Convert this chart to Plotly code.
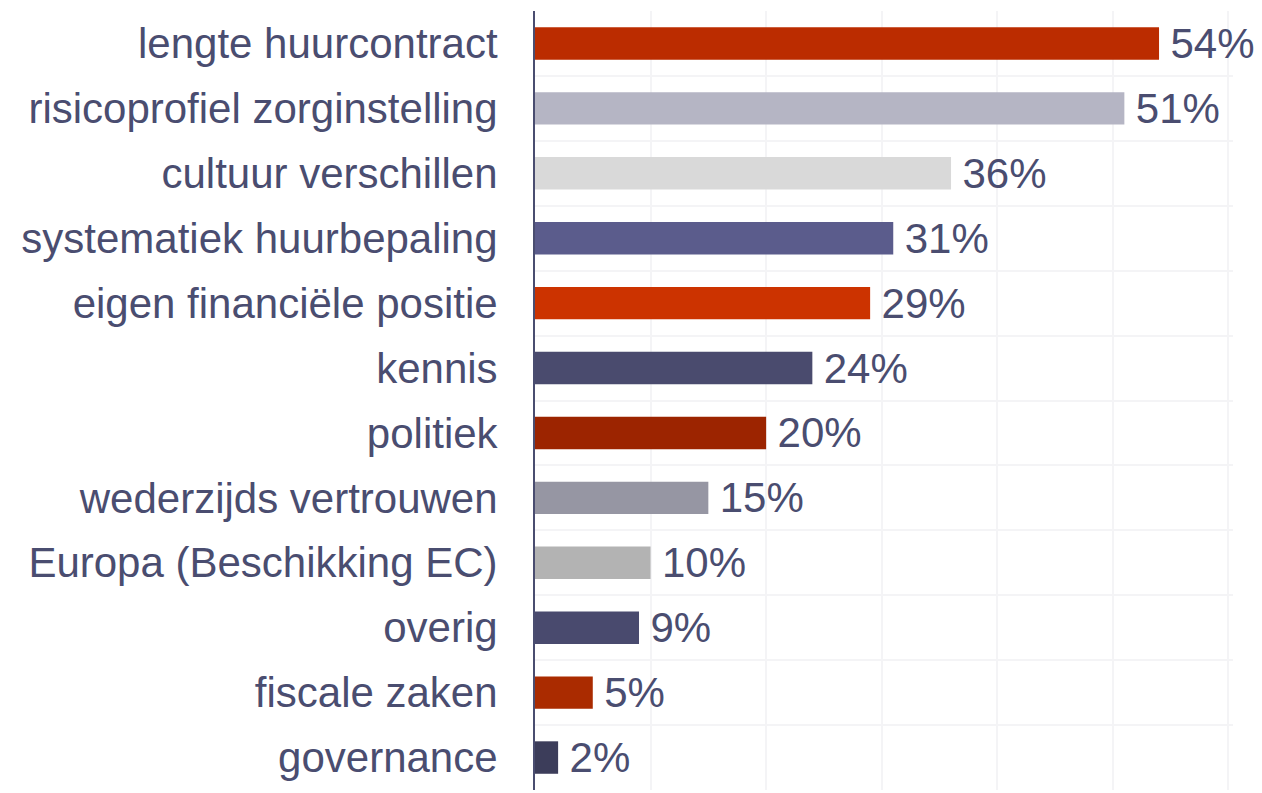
import plotly.graph_objects as go

# Data
categories = ["lengte huurcontract", "risicoprofiel zorginstelling", "cultuur verschillen",
              "systematiek huurbepaling", "eigen financiële positie", "kennis", "politiek",
              "wederzijds vertrouwen", "Europa (Beschikking EC)", "overig", "fiscale zaken",
              "governance"]
values = [54, 51, 36, 31, 29, 24, 20, 15, 10, 9, 5, 2]
bar_colors = ["#BB2C00", "#B5B5C4", "#D9D9D9", "#5B5C8C", "#CC3300", "#4A4B6E",
              "#9C2400", "#9696A3", "#B3B3B3", "#494A6E", "#AA2B00", "#3C3D5A"]

text_color = "#4A4D70"
font_family = "Liberation Sans"

fig = go.Figure()
fig.add_trace(go.Bar(
    x=values, y=categories, orientation="h",
    marker=dict(color=bar_colors, line=dict(width=0)),
    width=0.5,
    # thin space as gap, so the top label still fits inside the page
    text=[f"\u2009{v}%" for v in values],
    textposition="outside",
    constraintext="none",
    textfont=dict(size=42, color=text_color, family=font_family),
    cliponaxis=False,
))

# Axes
fig.update_xaxes(range=[0, 60.4], dtick=10, showticklabels=False, showgrid=True,
                 gridcolor="#F4F4F6", gridwidth=2, zeroline=False, showline=False,
                 automargin=False)
fig.update_yaxes(type="category", autorange="reversed", tickson="boundaries",
                 showgrid=True, gridcolor="#F4F4F6", gridwidth=2,
                 showline=True, linecolor=text_color, linewidth=2,
                 ticks="", ticklabelstandoff=27, automargin=False,
                 tickfont=dict(size=42, color=text_color, family=font_family))

# page has an 8px body margin, margins are measured from there
fig.update_layout(width=1254, height=785, plot_bgcolor="white", paper_bgcolor="white",
                  margin=dict(l=527, r=29, t=3, b=3, autoexpand=False),
                  font=dict(family=font_family),
                  showlegend=False, bargap=0.5)

fig.write_html("out.html")
